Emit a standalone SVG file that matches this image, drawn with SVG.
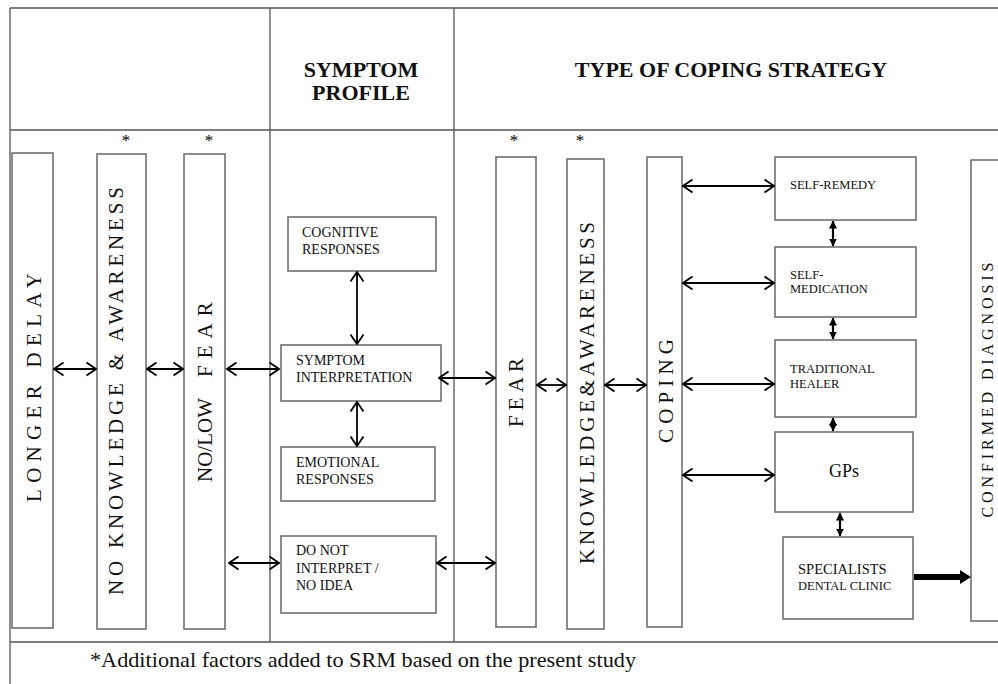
<svg xmlns="http://www.w3.org/2000/svg" width="998" height="684" viewBox="0 0 998 684">
<style>
  .frame{stroke:#555;stroke-width:1.3;fill:none}
  .box{fill:#fff;stroke:#707070;stroke-width:1.6}
  .conn{stroke:#000;stroke-width:1.8;fill:none}
  .dbl{stroke:#000;stroke-width:2.2;fill:none}
  .hdr{font-size:22px;font-weight:bold;text-anchor:middle}
  .vt{font-size:21px;text-anchor:middle}
  .bt{font-size:14px}
  .st{font-size:12.5px}
</style>
<defs>
  <marker id="oa" viewBox="0 0 12 16" refX="11" refY="8" markerWidth="12" markerHeight="16" markerUnits="userSpaceOnUse" orient="auto-start-reverse">
    <path d="M1.5,1.5 L11,8 L1.5,14.5" fill="none" stroke="#000" stroke-width="1.8"/>
  </marker>
  <marker id="fa" viewBox="0 0 8 8" refX="7.5" refY="4" markerWidth="8" markerHeight="8" markerUnits="userSpaceOnUse" orient="auto-start-reverse">
    <path d="M0,0 L8,4 L0,8 z" fill="#000"/>
  </marker>
</defs>
<g font-family="'Liberation Serif', 'Times New Roman', 'DejaVu Serif', serif" fill="#111">
<g id="table">
  <line class="frame" x1="10" y1="8" x2="998" y2="8"/>
  <line class="frame" x1="10" y1="130" x2="998" y2="130"/>
  <line class="frame" x1="10" y1="642" x2="998" y2="642"/>
  <line class="frame" x1="10" y1="8" x2="10" y2="684"/>
  <line class="frame" x1="270" y1="8" x2="270" y2="642"/>
  <line class="frame" x1="454" y1="8" x2="454" y2="642"/>
  <text class="hdr" x="361" y="77">SYMPTOM</text>
  <text class="hdr" x="361" y="100">PROFILE</text>
  <text class="hdr" x="731" y="77">TYPE OF COPING STRATEGY</text>
  <text x="90" y="667" font-size="21" textLength="546" lengthAdjust="spacingAndGlyphs">*Additional factors added to SRM based on the present study</text>
</g>

<g id="asterisks" font-size="17" fill="#000">
  <text x="126" y="146" text-anchor="middle">*</text>
  <text x="209" y="146" text-anchor="middle">*</text>
  <text x="514" y="146" text-anchor="middle">*</text>
  <text x="580" y="146" text-anchor="middle">*</text>
</g>

<g id="longer-delay">
  <rect class="box" x="12" y="153" width="41" height="475"/>
  <text class="vt" transform="translate(41,387.5) rotate(-90)" textLength="229" lengthAdjust="spacing">LONGER  DELAY</text>
</g>
<g id="no-knowledge">
  <rect class="box" x="97" y="154" width="49" height="475"/>
  <text class="vt" transform="translate(123,391) rotate(-90)" textLength="408" lengthAdjust="spacing">NO KNOWLEDGE &amp; AWARENESS</text>
</g>
<g id="no-low-fear">
  <rect class="box" x="184" y="154" width="41" height="475"/>
  <text font-size="21" transform="translate(212,0) rotate(-90)"><tspan x="-482">NO/LOW</tspan><tspan x="-377" style="letter-spacing:7px">FEAR</tspan></text>
</g>

<g id="cognitive">
  <rect class="box" x="288" y="217" width="148" height="54"/>
  <text class="bt" x="302" y="237">COGNITIVE</text>
  <text class="bt" x="302" y="254">RESPONSES</text>
</g>
<g id="symptom-interpretation">
  <rect class="box" x="281" y="345" width="160" height="56"/>
  <text class="bt" x="296" y="365">SYMPTOM</text>
  <text class="bt" x="296" y="382">INTERPRETATION</text>
</g>
<g id="emotional">
  <rect class="box" x="281" y="447" width="154" height="54"/>
  <text class="bt" x="296" y="467">EMOTIONAL</text>
  <text class="bt" x="296" y="484">RESPONSES</text>
</g>
<g id="do-not-interpret">
  <rect class="box" x="281" y="536" width="155" height="77"/>
  <text class="bt" x="296" y="555">DO NOT</text>
  <text class="bt" x="296" y="573">INTERPRET /</text>
  <text class="bt" x="296" y="590">NO IDEA</text>
</g>

<g id="fear">
  <rect class="box" x="496" y="157" width="40" height="470"/>
  <text class="vt" transform="translate(523,392.5) rotate(-90)" textLength="69" lengthAdjust="spacing">FEAR</text>
</g>
<g id="knowledge-awareness">
  <rect class="box" x="567" y="159" width="37" height="470"/>
  <text class="vt" transform="translate(594,393) rotate(-90)" textLength="342" lengthAdjust="spacing">KNOWLEDGE&amp;AWARENESS</text>
</g>
<g id="coping">
  <rect class="box" x="647" y="157" width="35" height="470"/>
  <text class="vt" transform="translate(673,391) rotate(-90)" textLength="104" lengthAdjust="spacing">COPING</text>
</g>

<g id="self-remedy">
  <rect class="box" x="775" y="157" width="141" height="63"/>
  <text class="st" x="790" y="189">SELF-REMEDY</text>
</g>
<g id="self-medication">
  <rect class="box" x="775" y="247" width="141" height="70"/>
  <text class="st" x="790" y="279">SELF-</text>
  <text class="st" x="790" y="293">MEDICATION</text>
</g>
<g id="traditional-healer">
  <rect class="box" x="775" y="340" width="141" height="77"/>
  <text class="st" x="790" y="373">TRADITIONAL</text>
  <text class="st" x="790" y="388">HEALER</text>
</g>
<g id="gps">
  <rect class="box" x="775" y="432" width="138" height="80"/>
  <text x="844" y="477" font-size="18" text-anchor="middle">GPs</text>
</g>
<g id="specialists">
  <rect class="box" x="783" y="537" width="130" height="82"/>
  <text x="798" y="574" font-size="14.5">SPECIALISTS</text>
  <text class="st" x="798" y="590">DENTAL CLINIC</text>
</g>
<g id="confirmed-diagnosis">
  <rect class="box" x="971" y="160" width="40" height="461"/>
  <text font-size="16" text-anchor="middle" transform="translate(993,390) rotate(-90)" textLength="255" lengthAdjust="spacing">CONFIRMED DIAGNOSIS</text>
</g>
</g>

<g id="connectors">
  <line class="conn" x1="54" y1="369" x2="96" y2="369" marker-start="url(#oa)" marker-end="url(#oa)"/>
  <line class="conn" x1="147" y1="369" x2="183" y2="369" marker-start="url(#oa)" marker-end="url(#oa)"/>
  <line class="conn" x1="227" y1="369" x2="279" y2="369" marker-start="url(#oa)" marker-end="url(#oa)"/>
  <line class="conn" x1="229" y1="563" x2="279" y2="563" marker-start="url(#oa)" marker-end="url(#oa)"/>
  <line class="conn" x1="357" y1="272" x2="357" y2="344" marker-start="url(#oa)" marker-end="url(#oa)"/>
  <line class="conn" x1="357" y1="402" x2="357" y2="446" marker-start="url(#oa)" marker-end="url(#oa)"/>
  <line class="conn" x1="439" y1="378" x2="495" y2="378" marker-start="url(#oa)" marker-end="url(#oa)"/>
  <line class="conn" x1="437" y1="563" x2="495" y2="563" marker-start="url(#oa)" marker-end="url(#oa)"/>
  <line class="conn" x1="537" y1="385" x2="566" y2="385" marker-start="url(#oa)" marker-end="url(#oa)"/>
  <line class="conn" x1="605" y1="385" x2="646" y2="385" marker-start="url(#oa)" marker-end="url(#oa)"/>
  <line class="conn" x1="683" y1="186" x2="774" y2="186" marker-start="url(#oa)" marker-end="url(#oa)"/>
  <line class="conn" x1="683" y1="283" x2="774" y2="283" marker-start="url(#oa)" marker-end="url(#oa)"/>
  <line class="conn" x1="683" y1="384" x2="774" y2="384" marker-start="url(#oa)" marker-end="url(#oa)"/>
  <line class="conn" x1="683" y1="475" x2="774" y2="475" marker-start="url(#oa)" marker-end="url(#oa)"/>
  <line class="dbl" x1="833" y1="221" x2="833" y2="246" marker-start="url(#fa)" marker-end="url(#fa)"/>
  <line class="dbl" x1="833" y1="318" x2="833" y2="339" marker-start="url(#fa)" marker-end="url(#fa)"/>
  <line class="dbl" x1="833" y1="418" x2="833" y2="431" marker-start="url(#fa)" marker-end="url(#fa)"/>
  <line class="dbl" x1="840" y1="513" x2="840" y2="536" marker-start="url(#fa)" marker-end="url(#fa)"/>
  <line stroke="#000" stroke-width="6" x1="914" y1="577" x2="962" y2="577"/>
  <polygon points="960,570 971,577 960,584" fill="#000"/>
</g>
</svg>
